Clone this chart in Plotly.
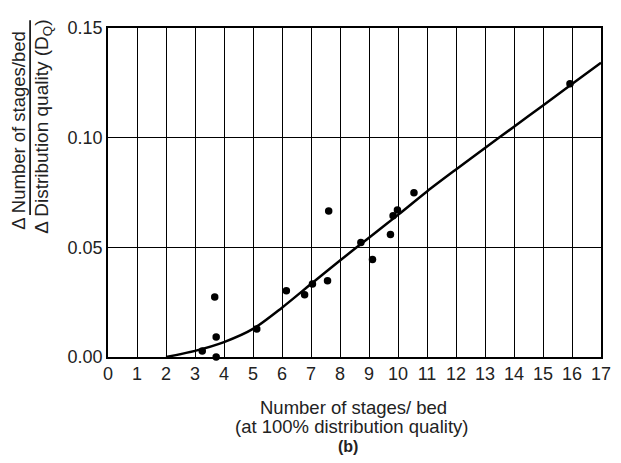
import plotly.graph_objects as go

# Data points
pts_x = [3.25, 3.68, 3.73, 3.73, 5.13, 6.15, 6.78, 7.05, 7.57, 7.61, 8.72, 9.12, 9.74, 9.83, 9.98, 10.55, 15.93]
pts_y = [0.0027, 0.0273, 0.0091, 0.0000, 0.0128, 0.0302, 0.0284, 0.0333, 0.0348, 0.0666, 0.0522, 0.0445, 0.0559, 0.0644, 0.0670, 0.0749, 0.1246]

# Fitted curve
curve_x = [2, 3, 4, 5, 6, 7, 8, 9, 10, 11, 12, 13, 14, 15, 16, 17]
curve_y = [0.0, 0.0028, 0.0068, 0.0128, 0.0225, 0.0333, 0.0440, 0.0544, 0.0648, 0.0755, 0.0855, 0.0953, 0.1050, 0.1147, 0.1245, 0.1342]

x_ticks = list(range(0, 18))
y_ticks = [0.0, 0.05, 0.10, 0.15]
y_tick_text = ["0.00", "0.05", "0.10", "0.15"]

FONT = "Liberation Sans, Arial, sans-serif"

FW, FH = 613, 455
ML, MR, MT, MB = 100, 10, 13, 106

fig = go.Figure()
fig.add_trace(go.Scatter(x=curve_x, y=curve_y, mode="lines",
                         line=dict(color="black", width=2.5, shape="spline", smoothing=0.8),
                         showlegend=False, hoverinfo="skip"))
fig.add_trace(go.Scatter(x=pts_x, y=pts_y, mode="markers",
                         marker=dict(color="black", size=7.5),
                         showlegend=False, cliponaxis=False))

fig.update_layout(
    width=FW, height=FH,
    margin=dict(l=ML, r=MR, t=MT, b=MB),
    paper_bgcolor="white", plot_bgcolor="white",
    font=dict(family=FONT, color="#222", size=18),
    xaxis=dict(range=[0, 17], tickvals=x_ticks, ticktext=[str(v) for v in x_ticks],
               showgrid=True, gridcolor="black", gridwidth=1.4,
               showline=True, linecolor="black", linewidth=1.6, mirror=True,
               zeroline=False, ticks="", ticklen=0, tickfont=dict(size=18)),
    yaxis=dict(range=[0, 0.15], tickvals=y_ticks, ticktext=y_tick_text,
               showgrid=True, gridcolor="black", gridwidth=1.4,
               showline=True, linecolor="black", linewidth=1.6, mirror=True,
               zeroline=False, ticks="", ticklen=0, tickfont=dict(size=18)),
)

W = FW - ML - MR
H = FH - MT - MB
def px(xp):  # page pixel -> paper (page has an 8px body offset)
    return (xp - 8 - ML) / W
def py(yp):
    return (8 + FH - MB - yp) / H

# Y title as fraction
fig.add_annotation(text="Δ Number of stages/bed", xref="paper", yref="paper",
                   x=px(17), y=py(125), textangle=-90, showarrow=False,
                   xanchor="center", yanchor="middle", font=dict(size=18.5, family=FONT))
fig.add_annotation(text="Δ Distribution quality (D<sub>Q</sub>)", xref="paper", yref="paper",
                   x=px(41.5), y=py(122), textangle=-90, showarrow=False,
                   xanchor="center", yanchor="middle", font=dict(size=19, family=FONT))
fig.add_shape(type="line", xref="paper", yref="paper", layer="above",
              x0=px(28.5), x1=px(28.5), y0=py(13), y1=py(212),
              line=dict(color="black", width=1.6))

# X title
fig.add_annotation(text="Number of stages/ bed", xref="paper", yref="paper",
                   x=px(358), y=py(409), showarrow=False, xanchor="center", yanchor="middle",
                   font=dict(size=18.5, family=FONT))
fig.add_annotation(text="(at 100% distribution quality)", xref="paper", yref="paper",
                   x=px(356), y=py(428), showarrow=False, xanchor="center", yanchor="middle",
                   font=dict(size=18.5, family=FONT))
fig.add_annotation(text="<b>(b)</b>", xref="paper", yref="paper",
                   x=px(353), y=py(448), showarrow=False, xanchor="center", yanchor="middle",
                   font=dict(size=16, family=FONT))

fig.write_html("out.html")
